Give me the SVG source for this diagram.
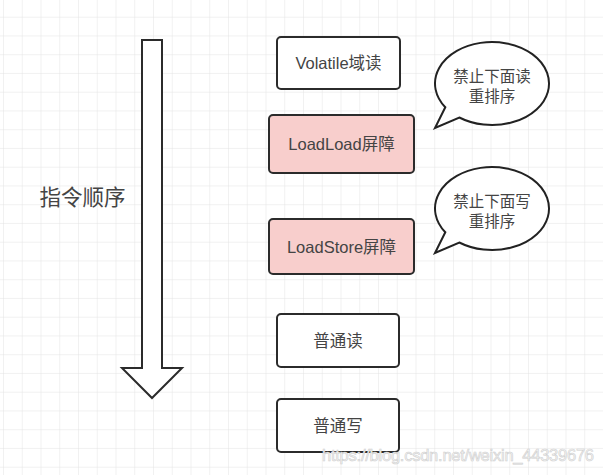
<svg xmlns="http://www.w3.org/2000/svg" width="603" height="475" viewBox="0 0 603 475">
<defs>
<pattern id="grid" x="3" y="16.7" width="18.75" height="18.75" patternUnits="userSpaceOnUse">
<path d="M0 0 H18.75 M0 0 V18.75" fill="none" stroke="#e4e4e4" stroke-width="1"/>
</pattern>
</defs>
<style>
.box{stroke:#2b2b2b;stroke-width:2;}
.plain{fill:#ffffff;}
.pink{fill:#f8cecc;}
.t{font-family:"Liberation Sans","Noto Sans CJK SC",sans-serif;font-size:16.5px;fill:#444;text-anchor:middle;dominant-baseline:central;}
.bub{fill:#ffffff;stroke:#222;stroke-width:2;stroke-linejoin:miter;}
.bt{font-family:"Noto Sans CJK SC",sans-serif;font-size:15.5px;fill:#444;text-anchor:middle;dominant-baseline:central;}
</style>
<rect width="603" height="475" fill="#ffffff"/>
<rect width="603" height="475" fill="url(#grid)"/>

<g id="order-arrow">
<polygon points="142,40 162,40 162,368 182,368 152,398 122,368 142,368" fill="#ffffff" stroke="#2b2b2b" stroke-width="2" stroke-linejoin="miter"/>
</g>
<g id="order-label">
<text x="82.5" y="195" style="font-family:'Noto Sans CJK SC',sans-serif;font-size:21.5px;fill:#444;text-anchor:middle;dominant-baseline:central;">指令顺序</text>
</g>

<g id="volatile-read">
<rect class="box plain" x="277" y="37" width="123" height="52" rx="4"/>
<text class="t" x="338.5" y="63">Volatile域读</text>
</g>
<g id="loadload">
<rect class="box pink" x="269" y="115" width="145" height="58" rx="4"/>
<text class="t" x="341.5" y="144">LoadLoad屏障</text>
</g>
<g id="loadstore">
<rect class="box pink" x="269" y="219" width="145" height="55" rx="4"/>
<text class="t" x="341.5" y="246.5">LoadStore屏障</text>
</g>
<g id="normal-read">
<rect class="box plain" x="277" y="314" width="122" height="53" rx="4"/>
<text class="t" x="338" y="340.5">普通读</text>
</g>
<g id="normal-write">
<rect class="box plain" x="277" y="399" width="122" height="53" rx="4"/>
<text class="t" x="338" y="425.5">普通写</text>
</g>

<g id="bubble-1">
<path class="bub" d="M445.3 107.3 L435 128 L459.3 117.5 A57 41.5 0 1 0 445.3 107.3 Z"/>
<text class="bt" x="492" y="75">禁止下面读</text>
<text class="bt" x="492" y="95">重排序</text>
</g>
<g id="bubble-2">
<path class="bub" d="M445.3 232.3 L435 253 L459.3 242.5 A57 41.5 0 1 0 445.3 232.3 Z"/>
<text class="bt" x="492" y="200">禁止下面写</text>
<text class="bt" x="492" y="220">重排序</text>
</g>

<g id="connectors"></g>

<text x="322" y="461" style="font-family:'Liberation Sans',sans-serif;font-size:16.5px;fill:#f6f6f6;stroke:#cfcfcf;stroke-width:0.6;" textLength="272">https://blog.csdn.net/weixin_44339676</text>
</svg>
